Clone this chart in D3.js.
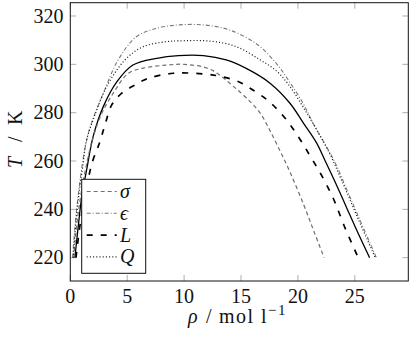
<!DOCTYPE html>
<html>
<head>
<meta charset="utf-8">
<script src="https://cdn.jsdelivr.net/npm/d3@7"></script>
<style>
  body { margin: 0; background: #fff; }
  svg { display: block; }
</style>
</head>
<body>
<svg id="chart"></svg>
<script>
// reference curve (solid, no legend entry)
const refRho = [0.4, 0.7, 1.0, 1.5, 2.0, 2.9, 4.1, 5.5, 7.6, 9.5, 11.7, 13.7, 15.5, 17.55, 19.3, 20.5, 21.65, 22.4, 23.3, 24.25, 25.25, 26.3];
const refT = [220, 233, 245, 258, 270, 282.5, 292.8, 299.7, 302.5, 303.6, 303.6, 301.8, 298.2, 292.2, 283.9, 275.6, 267.4, 260, 251, 241, 230.5, 220];

const sigmaRho = [0.3, 0.6, 1.0, 1.4, 1.9, 2.7, 3.9, 5.1, 6.4, 8.5, 10.0, 12.0, 13.15, 14.3, 15.5, 16.7, 17.5, 18.4, 19.3, 20.5, 21.4, 22.3];
const sigmaT = [220, 235, 248, 258, 268, 279, 289, 296.3, 298.4, 299.7, 300, 298.5, 295.5, 291, 286, 279.7, 273, 264.5, 255.5, 242, 231, 220];

const epsRho = [0.2, 0.45, 0.75, 1.1, 1.45, 1.88, 2.9, 4.2, 5.8, 7.6, 9.5, 11.7, 14.0, 16.4, 18.1, 19.3, 20.5, 21.4, 22.5, 23.3, 24.4, 25.6, 26.9];
const epsT = [220, 235, 248, 260, 269, 276, 288, 301.8, 311.4, 314.9, 316.3, 316.3, 314.2, 308.3, 300.4, 292.5, 283.5, 275, 266, 259, 247, 234, 220];

const lRho = [0.5, 0.9, 1.4, 1.9, 2.6, 3.05, 3.64, 4.5, 5.7, 6.85, 9.06, 11.8, 13.3, 14.8, 15.8, 17.1, 18.1, 19.0, 19.75, 20.5, 21.2, 21.9, 23.1, 24.1, 25.3];
const lT = [220, 235, 248, 259, 268, 275, 283.2, 288, 291.5, 294.2, 296.3, 296, 294.9, 292.8, 290.1, 286, 281.8, 277, 272.1, 266.6, 261.1, 255.6, 244.6, 232.8, 220];

const qRho = [0.25, 0.5, 0.8, 1.1, 1.4, 2.0, 3.2, 4.8, 6.4, 8.5, 9.5, 12.3, 14.6, 16.7, 18.1, 19.2, 20.5, 21.7, 22.8, 23.8, 25.3, 26.8];
const qT = [220, 235, 248, 258, 268, 277, 290.8, 301.8, 307.3, 309.4, 309.7, 309.6, 307.3, 301.8, 297.3, 291.5, 282, 272.5, 263, 252.5, 236, 220];

const xTicks = [0, 5, 10, 15, 20, 25];
const yTicks = [220, 240, 260, 280, 300, 320];
const legendNames = ["σ", "ϵ", "L", "Q"];

const W = 409, H = 337;
const FONT = "'Liberation Serif', serif";
const FS = 20;
const svg = d3.select("#chart").attr("width", W).attr("height", H)
  .attr("font-family", FONT);

const x = d3.scaleLinear().domain([0, 29.7]).range([70.3, 408.3]);
const y = d3.scaleLinear().domain([210.36, 325.5]).range([281, 2.7]);

const styles = {
  ref: { stroke: "#000", width: 1.3, dash: null },
  sigma: { stroke: "#6e6e6e", width: 1.2, dash: "4,3" },
  eps: { stroke: "#7a7a7a", width: 1.1, dash: "4,2,1,2" },
  L: { stroke: "#000", width: 1.7, dash: "6,8" },
  Q: { stroke: "#111", width: 1.2, dash: "1,2.2" },
};

const series = [
  { key: "ref", rho: refRho, T: refT },
  { key: "sigma", rho: sigmaRho, T: sigmaT },
  { key: "eps", rho: epsRho, T: epsT },
  { key: "L", rho: lRho, T: lT },
  { key: "Q", rho: qRho, T: qT },
];

svg.append("defs").append("clipPath").attr("id", "plotclip")
  .append("rect")
  .attr("x", x.range()[0]).attr("y", y.range()[1])
  .attr("width", x.range()[1] - x.range()[0])
  .attr("height", y.range()[0] - y.range()[1]);

const line = d3.line()
  .x((d) => x(d[0]))
  .y((d) => y(d[1]))
  .curve(d3.curveCatmullRom.alpha(0.5));

// ticks, inward on all four sides
const tickLen = 6;
const tg = svg.append("g").attr("stroke", "#999").attr("stroke-width", 0.8);
xTicks.forEach((t) => {
  tg.append("line").attr("x1", x(t)).attr("x2", x(t)).attr("y1", y.range()[0]).attr("y2", y.range()[0] - tickLen);
  tg.append("line").attr("x1", x(t)).attr("x2", x(t)).attr("y1", y.range()[1]).attr("y2", y.range()[1] + tickLen);
});
yTicks.forEach((t) => {
  tg.append("line").attr("x1", x.range()[0]).attr("x2", x.range()[0] + tickLen).attr("y1", y(t)).attr("y2", y(t));
  tg.append("line").attr("x1", x.range()[1]).attr("x2", x.range()[1] - tickLen).attr("y1", y(t)).attr("y2", y(t));
});

svg.append("g").attr("clip-path", "url(#plotclip)")
  .selectAll("path")
  .data(series)
  .join("path")
  .attr("d", (s) => line(d3.zip(s.rho, s.T)))
  .attr("fill", "none")
  .attr("stroke", (s) => styles[s.key].stroke)
  .attr("stroke-width", (s) => styles[s.key].width)
  .attr("stroke-dasharray", (s) => styles[s.key].dash);

// frame
svg.append("rect")
  .attr("x", x.range()[0]).attr("y", y.range()[1])
  .attr("width", x.range()[1] - x.range()[0])
  .attr("height", y.range()[0] - y.range()[1])
  .attr("fill", "none").attr("stroke", "#111").attr("stroke-width", 1);

// tick labels
svg.append("g").selectAll("text").data(xTicks).join("text")
  .attr("x", (d) => x(d)).attr("y", 302.5)
  .attr("text-anchor", "middle").attr("font-size", FS).attr("fill", "#111")
  .text((d) => d);
svg.append("g").selectAll("text").data(yTicks).join("text")
  .attr("x", 63.5).attr("y", (d) => y(d) + 6.8)
  .attr("text-anchor", "end").attr("font-size", FS).attr("fill", "#111")
  .text((d) => d);

// axis labels
const xl = svg.append("text").attr("y", 323).attr("font-size", FS).attr("fill", "#111");
xl.append("tspan").attr("x", 188).attr("font-style", "italic").text("ρ");
xl.append("tspan").attr("x", 206).text("/");
xl.append("tspan").attr("x", 219).attr("letter-spacing", 1.5).text("mol");
xl.append("tspan").attr("x", 261).text("l");
xl.append("tspan").attr("x", 268).attr("dy", -8).attr("font-size", 15)
  .attr("letter-spacing", 1.5).text("−1");

const yl = svg.append("text")
  .attr("transform", "translate(22,0) rotate(-90)")
  .attr("font-size", FS).attr("fill", "#111");
yl.append("tspan").attr("x", -168).attr("font-style", "italic").text("T");
yl.append("tspan").attr("x", -142).text("/");
yl.append("tspan").attr("x", -125).text("K");

// legend
const lg = svg.append("g");
lg.append("rect")
  .attr("x", 81.7).attr("y", 179.3).attr("width", 64).attr("height", 94)
  .attr("fill", "#fff").attr("stroke", "#111").attr("stroke-width", 1);
const legendKeys = ["sigma", "eps", "L", "Q"];
legendKeys.forEach((k, i) => {
  const cy = 191.5 + i * 21.8;
  lg.append("line")
    .attr("x1", 86.7).attr("x2", 116.7).attr("y1", cy).attr("y2", cy)
    .attr("stroke", styles[k].stroke).attr("stroke-width", styles[k].width)
    .attr("stroke-dasharray", styles[k].dash);
  lg.append("text")
    .attr("x", 120).attr("y", cy + 6.5)
    .attr("font-size", FS).attr("font-style", "italic").attr("fill", "#111")
    .text(legendNames[i]);
});
</script>
</body>
</html>
